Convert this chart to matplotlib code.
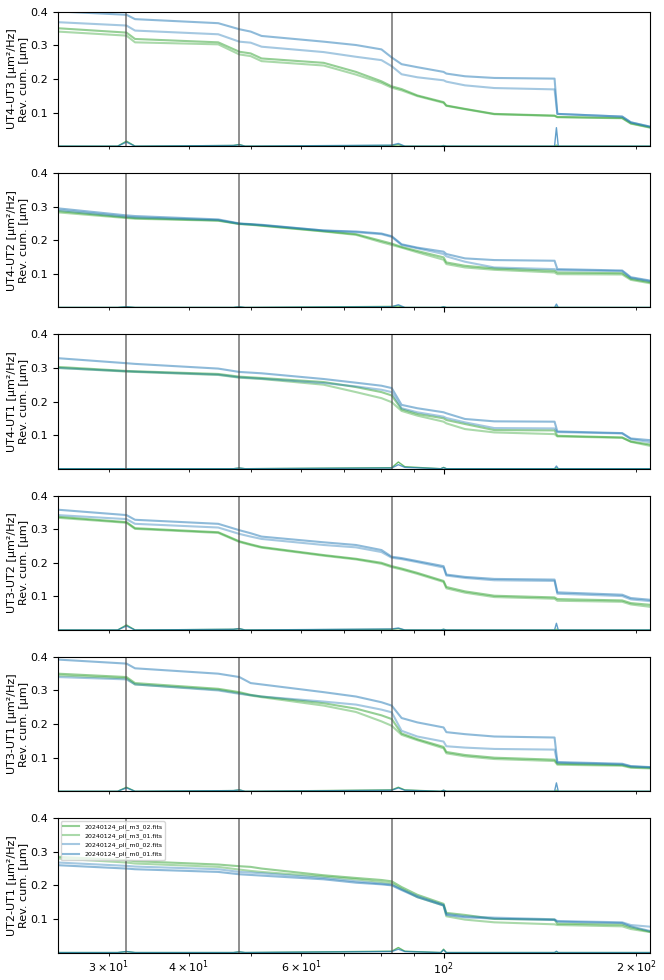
import matplotlib
matplotlib.use("Agg")
import matplotlib.pyplot as plt

# frequency breakpoints [Hz] of the reverse cumulative curves
freq = [25, 32, 33, 44.5, 48, 50, 52, 65, 73, 80, 83, 86, 91, 100, 101, 108, 120, 149, 150.5, 190, 196, 210]

files = ["20240124_pll_m3_02.fits", "20240124_pll_m3_01.fits",
         "20240124_pll_m0_02.fits", "20240124_pll_m0_01.fits"]
baselines = ["UT4-UT3", "UT4-UT2", "UT4-UT1", "UT3-UT2", "UT3-UT1", "UT2-UT1"]
vlines = [32, 48, 83]

# reverse cumulative OPD [um], one list per baseline and file
ut4_ut3_m3_02 = [.351, .338, .319, .309, .281, .276, .261, .248, .221, .193, .178, .170, .151, .131, .121, .111, .096, .091, .087, .084, .068, .056]
ut4_ut3_m3_01 = [.341, .329, .309, .303, .273, .268, .253, .240, .213, .188, .174, .166, .149, .129, .120, .110, .095, .090, .086, .083, .067, .055]
ut4_ut3_m0_02 = [.369, .359, .344, .333, .311, .308, .296, .280, .266, .256, .238, .214, .205, .196, .192, .181, .173, .169, .096, .088, .071, .058]
ut4_ut3_m0_01 = [.401, .391, .378, .366, .348, .341, .328, .311, .301, .288, .264, .244, .235, .221, .216, .208, .203, .201, .096, .088, .071, .058]

ut4_ut2_m3_02 = [.287, .268, .266, .259, .249, .247, .244, .227, .218, .198, .190, .180, .168, .149, .134, .124, .116, .109, .104, .102, .085, .075]
ut4_ut2_m3_01 = [.283, .266, .264, .258, .248, .246, .243, .226, .216, .194, .186, .178, .164, .142, .129, .119, .112, .104, .099, .098, .082, .072]
ut4_ut2_m0_02 = [.290, .270, .268, .260, .249, .247, .245, .229, .224, .218, .210, .186, .176, .159, .152, .136, .119, .114, .111, .108, .088, .078]
ut4_ut2_m0_01 = [.295, .274, .272, .262, .250, .248, .246, .229, .226, .220, .212, .188, .178, .166, .159, .146, .141, .139, .114, .110, .090, .080]

ut4_ut1_m3_02 = [.303, .291, .290, .282, .274, .272, .270, .258, .243, .228, .218, .177, .163, .150, .145, .133, .115, .114, .098, .093, .081, .072]
ut4_ut1_m3_01 = [.300, .289, .288, .279, .271, .269, .267, .250, .228, .210, .198, .172, .158, .140, .135, .118, .108, .103, .096, .092, .080, .068]
ut4_ut1_m0_02 = [.300, .290, .289, .280, .272, .270, .268, .255, .245, .235, .228, .180, .168, .155, .151, .138, .121, .120, .109, .105, .088, .079]
ut4_ut1_m0_01 = [.329, .314, .312, .298, .288, .286, .284, .267, .256, .247, .240, .190, .180, .168, .165, .148, .141, .140, .111, .106, .090, .085]

ut3_ut2_m3_02 = [.337, .321, .303, .291, .264, .255, .247, .223, .212, .200, .190, .183, .170, .146, .128, .115, .102, .097, .092, .088, .080, .075]
ut3_ut2_m3_01 = [.334, .319, .301, .289, .262, .253, .245, .221, .210, .197, .187, .180, .167, .143, .124, .111, .098, .093, .087, .084, .076, .069]
ut3_ut2_m0_02 = [.342, .330, .316, .305, .286, .278, .271, .253, .246, .232, .215, .211, .202, .186, .162, .155, .148, .146, .108, .101, .091, .086]
ut3_ut2_m0_01 = [.358, .342, .328, .316, .297, .288, .278, .261, .253, .238, .218, .214, .205, .190, .165, .158, .152, .150, .112, .105, .095, .090]

ut3_ut1_m3_02 = [.350, .340, .322, .305, .295, .287, .282, .262, .246, .226, .215, .172, .155, .132, .117, .108, .100, .094, .082, .078, .072, .070]
ut3_ut1_m3_01 = [.345, .336, .318, .302, .292, .285, .280, .255, .236, .208, .195, .168, .152, .128, .113, .104, .096, .090, .079, .076, .070, .068]
ut3_ut1_m0_02 = [.340, .333, .318, .300, .290, .286, .282, .267, .258, .243, .235, .180, .163, .148, .134, .130, .126, .124, .085, .080, .074, .071]
ut3_ut1_m0_01 = [.392, .380, .366, .350, .340, .322, .318, .295, .282, .265, .255, .218, .205, .190, .176, .170, .163, .160, .087, .082, .075, .072]

ut2_ut1_m3_02 = [.285, .275, .272, .262, .257, .255, .250, .230, .222, .216, .212, .195, .172, .145, .118, .112, .100, .098, .086, .083, .075, .062]
ut2_ut1_m3_01 = [.280, .268, .265, .255, .247, .243, .240, .226, .218, .210, .206, .190, .165, .140, .108, .098, .090, .084, .082, .078, .070, .061]
ut2_ut1_m0_02 = [.268, .258, .256, .248, .240, .238, .236, .222, .212, .205, .202, .188, .168, .142, .115, .108, .104, .099, .094, .090, .082, .077]
ut2_ut1_m0_01 = [.260, .250, .248, .240, .233, .231, .229, .218, .208, .203, .200, .186, .165, .140, .112, .105, .101, .097, .092, .088, .078, .064]

# PSD [um^2/Hz], shown near the floor of each panel
psd_freq = [25, 31, 32, 33, 47, 48, 49, 83, 85, 87, 99, 100, 101, 149, 150, 151, 210]
psd_ut4_ut3_m3 = [0, 0, .015, 0, .002, .005, 0, .002, .004, 0, 0, .002, 0, 0, .003, 0, 0]
psd_ut4_ut3_m0 = [0, 0, .012, 0, .002, .004, 0, .003, .008, 0, 0, .001, 0, 0, .055, 0, 0]
psd_ut4_ut2_m3 = [0, 0, .002, 0, 0, .002, 0, .003, .004, 0, 0, .002, 0, 0, .002, 0, 0]
psd_ut4_ut2_m0 = [0, 0, .002, 0, 0, .002, 0, .002, .008, 0, 0, .002, 0, 0, .010, 0, 0]
psd_ut4_ut1_m3 = [0, 0, 0, 0, 0, .002, 0, .003, .020, .006, 0, .004, 0, 0, .002, 0, 0]
psd_ut4_ut1_m0 = [0, 0, 0, 0, 0, .002, 0, .002, .012, .004, 0, .003, 0, 0, .008, 0, 0]
psd_ut3_ut2_m3 = [0, 0, .015, 0, .002, .004, 0, .002, .004, 0, 0, .002, 0, 0, .002, 0, 0]
psd_ut3_ut2_m0 = [0, 0, .012, 0, .002, .004, 0, .003, .006, 0, 0, .002, 0, 0, .020, 0, 0]
psd_ut3_ut1_m3 = [0, 0, .012, 0, .002, .004, 0, .004, .012, .004, 0, .003, 0, 0, .003, 0, 0]
psd_ut3_ut1_m0 = [0, 0, .010, 0, .002, .004, 0, .003, .010, .003, 0, .003, 0, 0, .025, 0, 0]
psd_ut2_ut1_m3 = [0, 0, .003, 0, 0, .002, 0, .004, .015, .004, 0, .010, 0, 0, .002, 0, 0]
psd_ut2_ut1_m0 = [0, 0, .003, 0, 0, .002, 0, .003, .010, .003, 0, .008, 0, 0, .004, 0, 0]

cum = [
    [ut4_ut3_m3_02, ut4_ut3_m3_01, ut4_ut3_m0_02, ut4_ut3_m0_01],
    [ut4_ut2_m3_02, ut4_ut2_m3_01, ut4_ut2_m0_02, ut4_ut2_m0_01],
    [ut4_ut1_m3_02, ut4_ut1_m3_01, ut4_ut1_m0_02, ut4_ut1_m0_01],
    [ut3_ut2_m3_02, ut3_ut2_m3_01, ut3_ut2_m0_02, ut3_ut2_m0_01],
    [ut3_ut1_m3_02, ut3_ut1_m3_01, ut3_ut1_m0_02, ut3_ut1_m0_01],
    [ut2_ut1_m3_02, ut2_ut1_m3_01, ut2_ut1_m0_02, ut2_ut1_m0_01],
]
psd = [
    (psd_ut4_ut3_m3, psd_ut4_ut3_m0),
    (psd_ut4_ut2_m3, psd_ut4_ut2_m0),
    (psd_ut4_ut1_m3, psd_ut4_ut1_m0),
    (psd_ut3_ut2_m3, psd_ut3_ut2_m0),
    (psd_ut3_ut1_m3, psd_ut3_ut1_m0),
    (psd_ut2_ut1_m3, psd_ut2_ut1_m0),
]

line_colors = ["#2ca02c", "#2ca02c", "#1f77b4", "#1f77b4"]
line_alpha = [0.5, 0.4, 0.4, 0.5]

plt.rcParams["font.size"] = 8

fig, axes = plt.subplots(6, 1, figsize=(6.64, 9.8), dpi=100, sharex=True)
fig.subplots_adjust(left=0.087, right=0.979, top=0.988, bottom=0.028, hspace=0.2)

for i, ax in enumerate(axes):
    for curve, name, c, a in zip(cum[i], files, line_colors, line_alpha):
        ax.plot(freq, curve, color=c, alpha=a, lw=1.5, label=name)
    ax.plot(psd_freq, psd[i][0], color="#2ca02c", alpha=0.7, lw=1)
    ax.plot(psd_freq, psd[i][1], color="#1f77b4", alpha=0.7, lw=1)
    for v in vlines:
        ax.axvline(v, color="0.3", lw=1.1, alpha=0.8)
    ax.set_xscale("log")
    ax.set_xlim(25, 210)
    ax.set_ylim(0, 0.4)
    ax.set_yticks([0.1, 0.2, 0.3, 0.4])
    ax.tick_params(axis="x", which="both", pad=2)
    ax.set_ylabel(f"{baselines[i]} [µm²/Hz]\nRev. cum. [µm]", fontsize=8, labelpad=1)

axes[-1].legend(loc="upper left", fontsize=4.5, handlelength=2.5)

fig.savefig("out.png", dpi=100)
